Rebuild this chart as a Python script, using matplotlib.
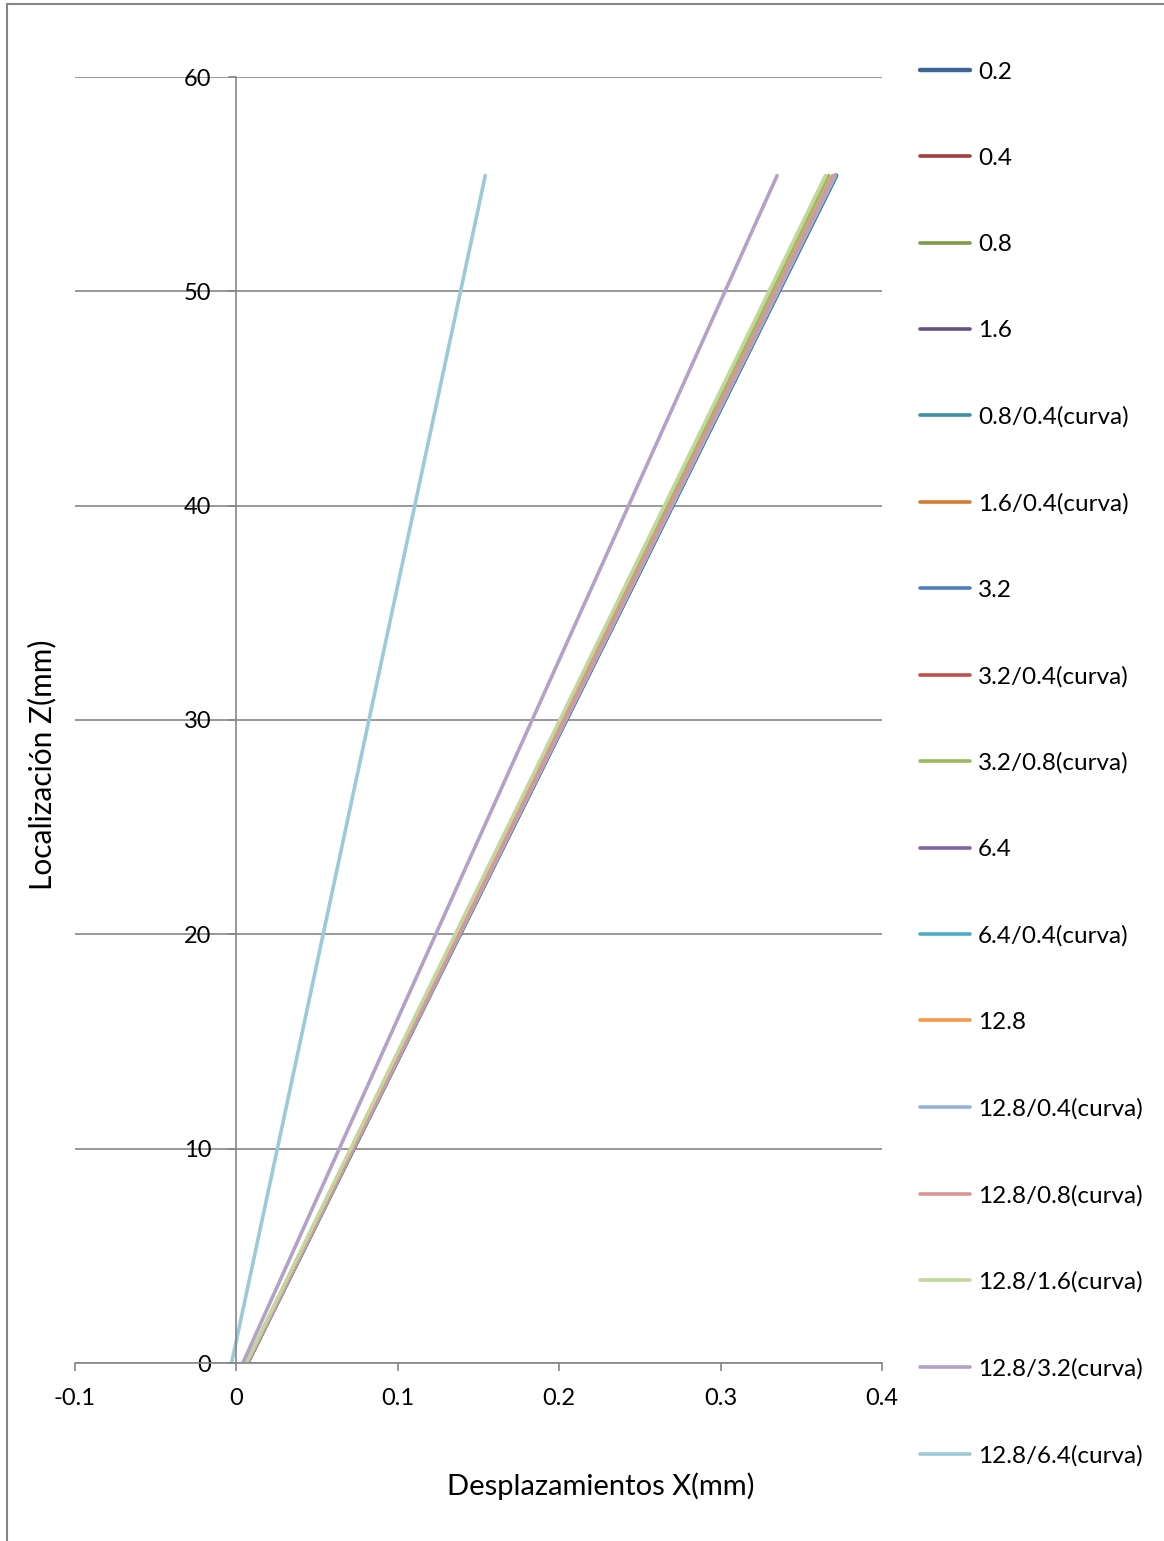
import matplotlib
matplotlib.use("Agg")
from matplotlib import pyplot as plt
from matplotlib.patches import Rectangle

plt.rcParams["font.family"] = ["Lato", "DejaVu Sans"]

# series: displacement X at z = 0 and at the top point
labels = [
    "0.2", "0.4", "0.8", "1.6", "0.8/0.4(curva)", "1.6/0.4(curva)", "3.2",
    "3.2/0.4(curva)", "3.2/0.8(curva)", "6.4", "6.4/0.4(curva)", "12.8",
    "12.8/0.4(curva)", "12.8/0.8(curva)", "12.8/1.6(curva)",
    "12.8/3.2(curva)", "12.8/6.4(curva)",
]
colors = [
    "#3C6596", "#A43E3B", "#7E9A47", "#674F86", "#3A91A6", "#D47D30",
    "#4F81BD", "#C0504D", "#9BBB59", "#8064A2", "#4BACC6", "#F79646",
    "#95B3D7", "#D99694", "#C3D69B", "#B3A2C7", "#9BCBD8",
]
z_loc = [0.0, 55.4]
x_bottom = [0.0068, 0.0068, 0.0067, 0.0068, 0.0068, 0.0067, 0.0068, 0.0067,
            0.0062, 0.0068, 0.0068, 0.0067, 0.0067, 0.0066, 0.0060, 0.0040,
            -0.0030]
x_top = [0.3716, 0.3713, 0.3708, 0.3714, 0.3712, 0.3710, 0.3714, 0.3710,
         0.3670, 0.3712, 0.3711, 0.3709, 0.3711, 0.3695, 0.3650, 0.3350,
         0.1542]

GRAY = "#868686"

fig = plt.figure(figsize=(11.64, 15.41), dpi=100)
W, H = 1164, 1541
ax = fig.add_axes([75 / W, 1 - 1363 / H, (882 - 75) / W, (1363 - 77) / H])

for i, lab in enumerate(labels):
    lw = 3.2 if i == 0 else 2.6
    ax.plot([x_bottom[i], x_top[i]], z_loc, color=colors[i], lw=lw,
            label=lab, solid_capstyle="round")

ax.set_xlim(-0.1, 0.4)
ax.set_ylim(0, 60)
ax.set_xticks([-0.1, 0, 0.1, 0.2, 0.3, 0.4])
ax.set_xticklabels(["-0.1", "0", "0.1", "0.2", "0.3", "0.4"])
ax.set_yticks([0, 10, 20, 30, 40, 50, 60])

ax.spines["right"].set_visible(False)
ax.spines["top"].set_visible(False)
ax.spines["left"].set_position(("data", 0))
for s in ("left", "bottom"):
    ax.spines[s].set_color(GRAY)
    ax.spines[s].set_linewidth(1.2)
ax.grid(True, axis="y", color=GRAY, lw=1.2)
ax.set_axisbelow(True)
ax.tick_params(axis="both", colors=GRAY, labelcolor="black", labelsize=17,
               length=6, width=1.2, direction="out")
ax.tick_params(axis="x", pad=12)
ax.tick_params(axis="y", pad=12)

fig.text(601 / W, 1 - 1486 / H, "Desplazamientos X(mm)", ha="center",
         va="center", fontsize=21)
fig.text(42 / W, 1 - 765 / H, "Localización Z(mm)", ha="center",
         va="center", rotation=90, fontsize=21.5)

fig.legend(loc="upper left", bbox_to_anchor=(910 / W, 1 - 52 / H),
           frameon=False, fontsize=17.5, handlelength=2.06, handletextpad=0.33,
           labelspacing=2.68, borderaxespad=0)

fig.add_artist(Rectangle((7 / W, -0.01), 1.2, 1 - 4 / H + 0.01,
                         transform=fig.transFigure, fill=False,
                         edgecolor=GRAY, lw=1.5))

fig.savefig("out.png", dpi=100)
